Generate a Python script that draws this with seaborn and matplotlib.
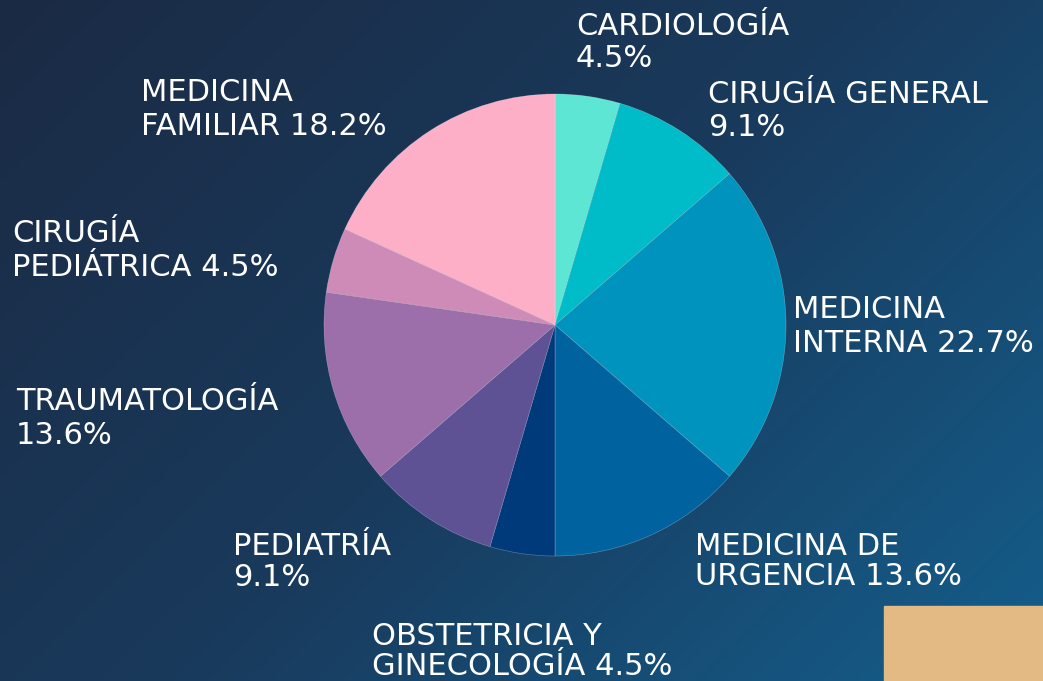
import numpy as np
import matplotlib.pyplot as plt
from matplotlib.colors import LinearSegmentedColormap
import seaborn as sns

# Data
specialties = ['CARDIOLOGÍA', 'CIRUGÍA GENERAL', 'MEDICINA INTERNA', 'MEDICINA DE URGENCIA',
               'OBSTETRICIA Y GINECOLOGÍA', 'PEDIATRÍA', 'TRAUMATOLOGÍA',
               'CIRUGÍA PEDIÁTRICA', 'MEDICINA FAMILIAR']
counts = [1, 2, 5, 3, 1, 2, 3, 1, 4]
label_lines = [('CARDIOLOGÍA', '{p}'), ('CIRUGÍA GENERAL', '{p}'), ('MEDICINA', 'INTERNA {p}'),
               ('MEDICINA DE', 'URGENCIA {p}'), ('OBSTETRICIA Y', 'GINECOLOGÍA {p}'),
               ('PEDIATRÍA', '{p}'), ('TRAUMATOLOGÍA', '{p}'), ('CIRUGÍA', 'PEDIÁTRICA {p}'),
               ('MEDICINA', 'FAMILIAR {p}')]
slice_colors = ['#5EE6D4', '#00BCC9', '#0093BE', '#0063A0', '#003A7A',
                '#5E5294', '#9C6EAA', '#CF8BB8', '#FEAFC8']

# label anchors in pixels: (x, baseline line 1, baseline line 2)
label_pos = [(576, 35, 67), (708, 103, 136), (793, 318, 352), (695, 555, 585),
             (372, 645, 675), (233, 555, 586), (16, 410, 444), (12, 242, 276), (141, 101, 135)]

sns.set_theme(style='white')
plt.rcParams['font.family'] = ['DejaVu Sans']

W, H = 1043, 681
fig = plt.figure(figsize=(W / 100, H / 100), dpi=100)

# gradient background
bg = fig.add_axes([0, 0, 1, 1], zorder=0)
xx, yy = np.meshgrid(np.linspace(0, 1, 300), np.linspace(0, 1, 200))
grad = 0.6 * xx + 0.4 * yy
cmap = LinearSegmentedColormap.from_list('bg', ['#1b2a44', '#193a5c', '#145e8c'])
bg.imshow(grad, cmap=cmap, aspect='auto', extent=[0, 1, 0, 1], origin='upper')
bg.add_patch(plt.Rectangle((884 / W, 0), (W - 884) / W, 75 / H, color='#E3BA84', zorder=2))
bg.set_xlim(0, 1)
bg.set_ylim(0, 1)
bg.axis('off')

# pie
cx, cy, r = 555, 325, 231
ax = fig.add_axes([(cx - r) / W, (H - cy - r) / H, 2 * r / W, 2 * r / H], zorder=1)
ax.pie(counts, colors=sns.color_palette(slice_colors), startangle=90, counterclock=False,
       wedgeprops=dict(linewidth=0.4, edgecolor=(1, 1, 1, 0.35)))
ax.set_xlim(-1, 1)
ax.set_ylim(-1, 1)
ax.set_aspect('equal')
ax.axis('off')

total = sum(counts)
for lines, (x, b1, b2), c in zip(label_lines, label_pos, counts):
    pct = f'{100 * c / total:.1f}%'
    for line, b in zip(lines, (b1, b2)):
        fig.text(x / W, 1 - b / H, line.format(p=pct), color='white', fontsize=22,
                 ha='left', va='baseline', zorder=3)

fig.savefig('out.png', dpi=100)
